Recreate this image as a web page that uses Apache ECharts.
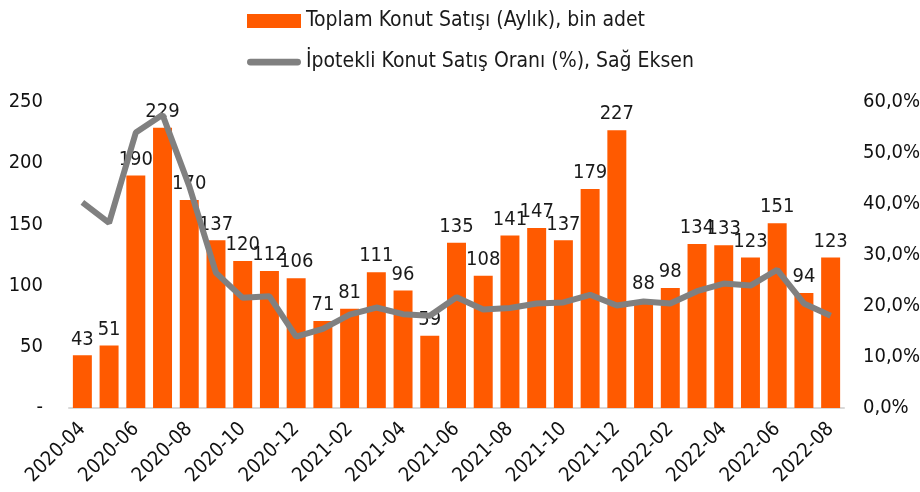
<!DOCTYPE html>
<html lang="tr">
<head>
    <meta charset="UTF-8">
    <title>Konut Satışları</title>
    <script src="https://cdn.jsdelivr.net/npm/echarts@6/dist/echarts.min.js"></script>
</head>
<body style="margin:0">
    <div id="main" style="width:920px;height:492px;"></div>

    <script>
// aylar
var months = ['2020-04','2020-05','2020-06','2020-07','2020-08','2020-09','2020-10','2020-11','2020-12',
    '2021-01','2021-02','2021-03','2021-04','2021-05','2021-06','2021-07','2021-08','2021-09','2021-10','2021-11','2021-12',
    '2022-01','2022-02','2022-03','2022-04','2022-05','2022-06','2022-07','2022-08'];
// toplam konut satışı, bin adet
var sales = [43, 51, 190, 229, 170, 137, 120, 112, 106, 71, 81, 111, 96, 59, 135, 108, 141, 147, 137, 179, 227, 88, 98, 134, 133, 123, 151, 94, 123];
// ipotekli satış oranı, %
var mortgageShare = [40.3, 36.3, 54.0, 57.5, 43.5, 26.5, 21.6, 21.9, 14.0, 15.5, 18.3, 19.7, 18.4, 18.1, 21.7,
    19.3, 19.6, 20.5, 20.7, 22.2, 20.1, 20.9, 20.5, 22.9, 24.4, 24.0, 27.1, 20.5, 18.1];
var leftTicks = [0, 50, 100, 150, 200, 250];

var barName = 'Toplam Konut Satışı (Aylık), bin adet';
var lineName = 'İpotekli Konut Satış Oranı (%), Sağ Eksen';
var font = 'DejaVu Sans Condensed';

var myChart = echarts.init(document.getElementById('main'));
myChart.setOption({
    animation: false,
    textStyle: { fontFamily: font },
    legend: {
        orient: 'vertical',
        left: 242,
        top: 5,
        itemWidth: 54,
        itemHeight: 14,
        itemGap: 19,
        textStyle: { fontFamily: font, fontSize: 21, lineHeight: 22, color: '#1a1a1a' },
        data: [
            { name: barName, icon: 'rect' },
            { name: lineName, icon: 'path://M3.5,0 h49 a3.5,3.5 0 0 1 0,7 h-49 a3.5,3.5 0 0 1 0,-7 z' }
        ]
    },
    grid: { left: 69, right: 76, top: 102, bottom: 84, outerBoundsMode: 'none' },
    xAxis: {
        type: 'category',
        data: months,
        axisTick: { show: false },
        axisLine: { lineStyle: { color: '#d9d9d9', width: 2 } },
        axisLabel: {
            interval: 1,
            rotate: 45,
            margin: 18,
            fontSize: 20,
            color: '#111',
            fontFamily: font
        }
    },
    yAxis: [{
        type: 'value',
        min: leftTicks[0],
        max: leftTicks[leftTicks.length - 1],
        interval: 50,
        splitLine: { show: false },
        axisLabel: {
            fontSize: 20,
            color: '#111',
            margin: 26,
            fontFamily: font,
            formatter: function (v) { return v === 0 ? '-' : v; }
        }
    }, {
        type: 'value',
        min: 0,
        max: 60,
        interval: 10,
        splitLine: { show: false },
        axisLabel: {
            fontSize: 20,
            color: '#111',
            margin: 19,
            fontFamily: font,
            formatter: function (v) { return v.toFixed(1).replace('.', ',') + '%'; }
        }
    }],
    series: [{
        name: barName,
        type: 'bar',
        data: sales,
        barWidth: '71%',
        itemStyle: { color: '#ff5a00' },
        label: {
            show: true,
            position: 'top',
            distance: 6,
            fontSize: 20,
            color: '#1a1a1a',
            fontFamily: font
        }
    }, {
        name: lineName,
        type: 'line',
        yAxisIndex: 1,
        data: mortgageShare,
        symbol: 'none',
        lineStyle: { color: '#808080', width: 6 },
        itemStyle: { color: '#808080' }
    }]
});
    </script>
</body>
</html>
